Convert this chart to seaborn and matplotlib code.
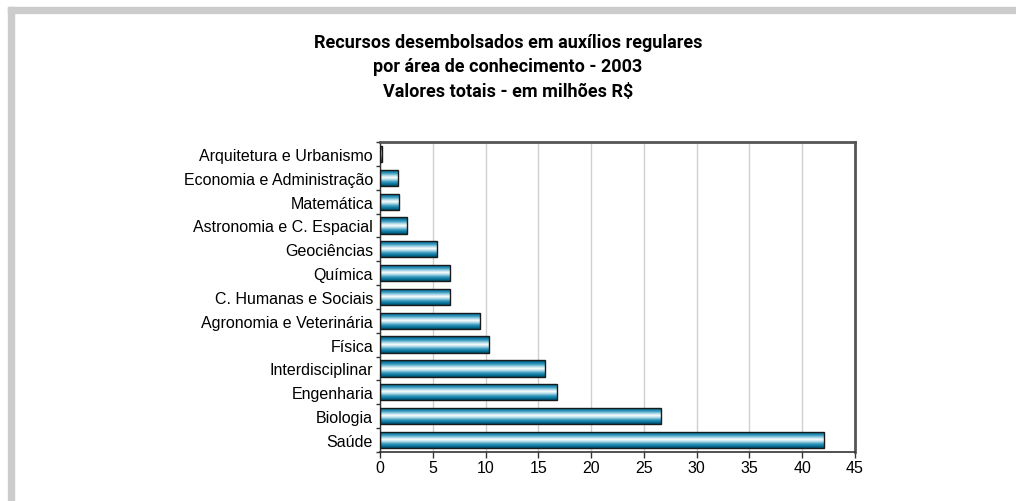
import numpy as np
import pandas as pd
import matplotlib
matplotlib.use('Agg')
import matplotlib.pyplot as plt
import seaborn as sns
from matplotlib.colors import LinearSegmentedColormap
from matplotlib.patches import Rectangle

# dados do gráfico
areas = ['Arquitetura e Urbanismo', 'Economia e Administração', 'Matemática',
         'Astronomia e C. Espacial', 'Geociências', 'Química',
         'C. Humanas e Sociais', 'Agronomia e Veterinária', 'Física',
         'Interdisciplinar', 'Engenharia', 'Biologia', 'Saúde']
valores = [0.2, 1.7, 1.8, 2.6, 5.4, 6.6, 6.6, 9.5, 10.3, 15.6, 16.8, 26.6, 42.1]
xticks = [0, 5, 10, 15, 20, 25, 30, 35, 40, 45]
titulo = ('Recursos desembolsados em auxílios regulares\n'
          'por área de conhecimento - 2003\n'
          'Valores totais - em milhões R$')

sns.set_style('white')
plt.rcParams['font.family'] = ['Liberation Sans', 'DejaVu Sans']
plt.rcParams['text.color'] = 'black'
plt.rcParams['xtick.color'] = 'black'
plt.rcParams['ytick.color'] = 'black'

df = pd.DataFrame({'area': areas, 'valor': valores})

fig = plt.figure(figsize=(10.16, 5.02), dpi=100)
ax = fig.add_axes([0.374, 0.098, 0.4675, 0.617])

sns.barplot(data=df, x='valor', y='area', ax=ax, width=0.68,
            color='#1a88aa', edgecolor='#1a1a1a', linewidth=1.0, zorder=3)

# gradiente nas barras
cmap = LinearSegmentedColormap.from_list(
    'grad', ['#004c6a', '#0a78a0', '#3d9dc0', '#a8d6e6', '#ffffff',
             '#a8d6e6', '#3d9dc0', '#0a78a0', '#004c6a'])
grad = np.linspace(0, 1, 64).reshape(-1, 1)
for p in ax.patches:
    x0, y0 = p.get_x(), p.get_y()
    w, h = p.get_width(), p.get_height()
    p.set_facecolor('none')
    im = ax.imshow(grad, cmap=cmap, aspect='auto', interpolation='bilinear',
                   extent=[x0, x0 + w, y0 + h, y0], zorder=2.5)
    im.set_clip_path(p)

ax.set_xlim(0, 45)
ax.set_ylim(len(areas) - 0.5, -0.5)
ax.set_xticks(xticks)
ax.set_xlabel('')
ax.set_ylabel('')
ax.xaxis.grid(True, color='#d0d0d0', linewidth=1.0, zorder=0)
ax.yaxis.grid(False)

ax.tick_params(axis='x', which='major', length=4, width=1, color='#333333',
               labelsize=11.5, pad=2, direction='out', bottom=True,
               labelcolor='black')
ax.tick_params(axis='y', which='major', length=0, labelsize=11.5, pad=5,
               labelcolor='black')
ax.set_yticks(np.arange(-0.5, len(areas), 1), minor=True)
ax.tick_params(axis='y', which='minor', length=3, width=1, color='#333333',
               direction='out', left=True)

for side in ['top', 'right']:
    ax.spines[side].set_color('#555555')
    ax.spines[side].set_linewidth(2)
ax.spines['bottom'].set_color('#333333')
ax.spines['bottom'].set_linewidth(1.2)
ax.spines['left'].set_color('#333333')
ax.spines['left'].set_linewidth(1)

fig.text(0.5, 0.932, titulo, ha='center', va='top', fontsize=13,
         fontweight='bold', linespacing=1.45, color='black',
         family=['Roboto', 'DejaVu Sans'])

# moldura cinza (topo e esquerda)
W, H = 1016, 502
fig.patches.append(Rectangle((8 / W, 0), 6 / W, 1 - 8 / H, transform=fig.transFigure,
                             color='#cccccc', zorder=0))
fig.patches.append(Rectangle((8 / W, 1 - 14 / H), 1 - 8 / W, 6 / H,
                             transform=fig.transFigure, color='#cccccc', zorder=0))

fig.savefig('out.png', dpi=100)
